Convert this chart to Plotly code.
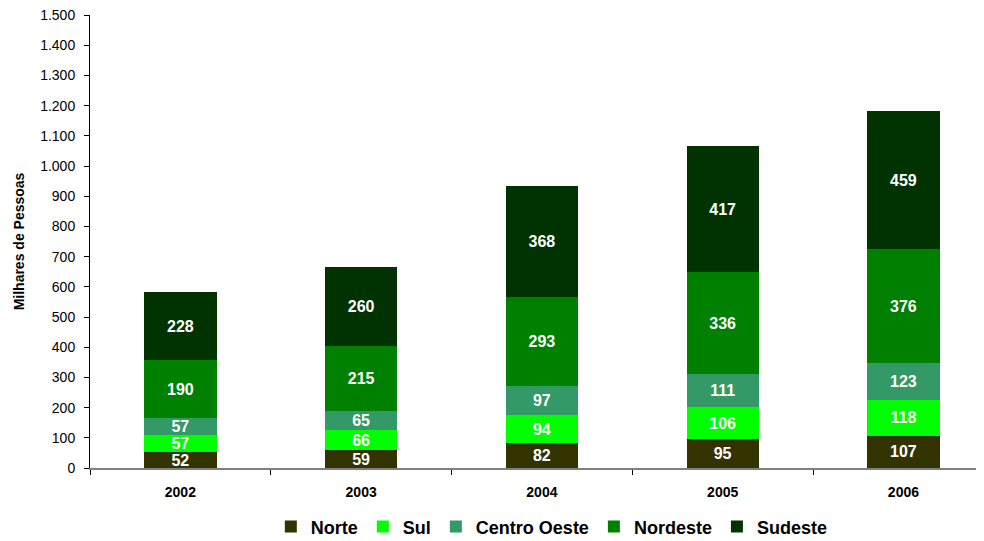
import plotly.graph_objects as go

years = ["2002", "2003", "2004", "2005", "2006"]
norte = [52, 59, 82, 95, 107]
sul = [57, 66, 94, 106, 118]
centro_oeste = [57, 65, 97, 111, 123]
nordeste = [190, 215, 293, 336, 376]
sudeste = [228, 260, 368, 417, 459]

series = [
    ("Norte", norte, "#333300"),
    ("Sul", sul, "#00FF00"),
    ("Centro Oeste", centro_oeste, "#339966"),
    ("Nordeste", nordeste, "#008000"),
    ("Sudeste", sudeste, "#003300"),
]

FONT = "Liberation Sans, Arial, sans-serif"

fig = go.Figure()
for name, vals, color in series:
    fig.add_trace(go.Bar(
        x=years, y=vals, name=name,
        marker_color=color, marker_line_width=0,
        text=vals, textposition="inside", insidetextanchor="middle",
        textangle=0, constraintext="none",
        textfont=dict(color="white", size=16, family=FONT, weight="bold"),
    ))

# page is offset by the default body margin (~8px), so margins compensate
fig.update_layout(
    barmode="stack",
    bargap=0.6,
    width=984, height=541,
    margin=dict(l=82, r=0, t=7, b=81),
    plot_bgcolor="white", paper_bgcolor="white",
    separators=",.",
    font=dict(family=FONT, color="#000000"),
    showlegend=True,
    legend=dict(
        orientation="h", x=0.512, xanchor="center", y=-0.13, yanchor="middle",
        font=dict(size=18, family=FONT, weight="bold"),
        traceorder="normal", itemwidth=30,
    ),
    xaxis=dict(
        range=[-0.5, 4.49], automargin=False,
        showline=True, linecolor="#808080", linewidth=2,
        ticks="outside", tickson="boundaries", ticklen=5, tickcolor="#000000",
        tickfont=dict(size=14, family=FONT, weight="bold"),
        ticklabelstandoff=10,
    ),
    yaxis=dict(
        range=[0, 1500], dtick=100, tickformat=",d", automargin=False,
        ticklabeloverflow="allow",
        showline=True, linecolor="#000000", linewidth=1,
        ticks="outside", ticklen=5, tickcolor="#000000",
        showgrid=False, zeroline=False,
        tickfont=dict(size=14, family=FONT),
        ticklabelstandoff=6,
        title=dict(text="Milhares de Pessoas", standoff=12,
                   font=dict(size=14, family=FONT, weight="bold")),
    ),
)

fig.write_html("out.html")
